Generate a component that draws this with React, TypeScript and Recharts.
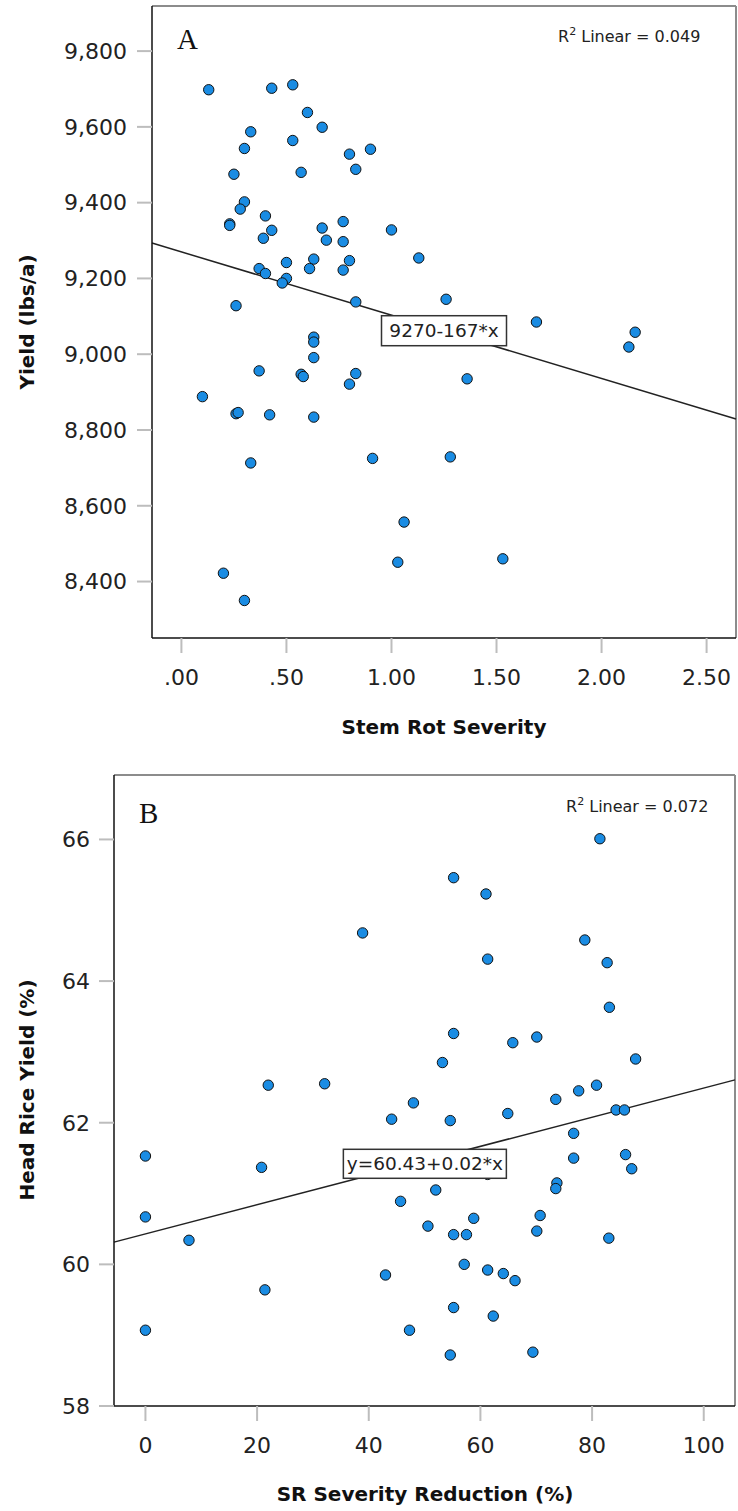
import React from "react";
import {
  ScatterChart,
  Scatter,
  XAxis,
  YAxis,
  ReferenceLine,
  ReferenceDot,
  Label,
} from "recharts";

/* ── data ── */

// panel A: stem rot severity vs yield (lbs/a)
const stemRot = [
  0.13, 0.43, 0.53, 0.6, 0.67, 0.33, 0.3, 0.53, 0.8, 0.83, 0.9, 0.25, 0.57,
  0.3, 0.28, 0.23, 0.23, 0.4, 0.43, 0.39, 0.67, 0.69, 0.77, 0.77, 0.8, 0.77,
  0.37, 0.4, 0.5, 0.5, 0.48, 0.63, 0.61, 0.83, 0.26, 0.63, 0.63, 0.63, 0.37,
  0.57, 0.58, 0.83, 1.0, 1.13, 1.26, 1.69, 2.16, 2.13, 1.36, 0.8, 0.1, 0.26,
  0.27, 0.42, 0.63, 0.33, 0.91, 0.2, 0.3, 1.28, 1.06, 1.03, 1.53,
];
const yieldLbs = [
  9698, 9702, 9711, 9638, 9599, 9587, 9543, 9564, 9528, 9488, 9541, 9475, 9480,
  9402, 9383, 9344, 9340, 9365, 9327, 9306, 9333, 9301, 9350, 9297, 9247, 9222,
  9226, 9213, 9242, 9200, 9188, 9251, 9226, 9138, 9128, 9045, 9032, 8991, 8956,
  8947, 8941, 8949, 9328, 9254, 9145, 9085, 9058, 9019, 8935, 8921, 8888, 8843,
  8846, 8840, 8834, 8713, 8725, 8422, 8350, 8729, 8557, 8451, 8460,
];
const ticksAx = [0, 0.5, 1, 1.5, 2, 2.5];
const ticksAy = [8400, 8600, 8800, 9000, 9200, 9400, 9600, 9800];
const domainAx: [number, number] = [-0.14, 2.64];
const domainAy: [number, number] = [8251, 9919];
const interceptA = 9270;
const slopeA = -167;

// panel B: SR severity reduction vs head rice yield
const srReduction = [
  38.9, 22.0, 32.1, 81.4, 55.2, 61.0, 78.7, 61.3, 82.7, 83.1, 55.2, 65.8, 70.1,
  53.2, 87.8, 80.8, 77.6, 73.5, 48.0, 44.1, 54.6, 64.9, 84.3, 85.8, 76.7, 76.7,
  86.0, 87.1, 73.7, 73.5, 52.0, 45.7, 70.7, 70.1, 58.8, 50.6, 55.2, 57.5, 83.0,
  57.1, 61.3, 64.1, 66.2, 43.0, 55.2, 62.3, 47.3, 54.6, 69.4, 61.3, 0, 0, 0,
  7.8, 20.8, 21.4,
];
const headRice = [
  64.68, 62.53, 62.55, 66.01, 65.46, 65.23, 64.58, 64.31, 64.26, 63.63, 63.26,
  63.13, 63.21, 62.85, 62.9, 62.53, 62.45, 62.33, 62.28, 62.05, 62.03, 62.13,
  62.18, 62.18, 61.85, 61.5, 61.55, 61.35, 61.15, 61.07, 61.05, 60.89, 60.69,
  60.47, 60.65, 60.54, 60.42, 60.42, 60.37, 60.0, 59.92, 59.87, 59.77, 59.85,
  59.39, 59.27, 59.07, 58.72, 58.76, 61.27, 61.53, 60.67, 59.07, 60.34, 61.37,
  59.64,
];
const ticksBx = [0, 20, 40, 60, 80, 100];
const ticksBy = [58, 60, 62, 64, 66];
const domainBx: [number, number] = [-5.63, 105.6];
const domainBy: [number, number] = [58, 66.91];
const interceptB = 60.43;
const slopeB = 0.0206;

const pointsA = stemRot.map((x, i) => ({ x, y: yieldLbs[i] }));
const pointsB = srReduction.map((x, i) => ({ x, y: headRice[i] }));

const FONT = "'DejaVu Sans', sans-serif";
const SERIF = "'Liberation Serif', 'Times New Roman', serif";

const Marker = (p: any) => (
  <circle cx={p.cx} cy={p.cy} r={5.2} fill="#1a8ce3" stroke="#111" strokeWidth={1} />
);

const eqBox = (text: string, w: number, h: number) => (p: any) => (
  <g>
    <rect
      x={p.cx - w / 2}
      y={p.cy - h / 2}
      width={w}
      height={h}
      fill="#fff"
      stroke="#333"
      strokeWidth={1.5}
    />
    <text
      x={p.cx}
      y={p.cy}
      textAnchor="middle"
      dominantBaseline="central"
      fontFamily={FONT}
      fontSize={18.5}
      fill="#222"
    >
      {text}
    </text>
  </g>
);

const title = (text: string, x: number, y: number, rotate = false) => () => (
  <text
    x={x}
    y={y}
    textAnchor="middle"
    dominantBaseline={rotate ? "central" : "auto"}
    transform={rotate ? `rotate(-90 ${x} ${y})` : undefined}
    fontFamily={FONT}
    fontWeight="bold"
    fontSize={20}
    fill="#111"
  >
    {text}
  </text>
);

const tickStyle = { fontSize: 22, fill: "#222", fontFamily: FONT };
const tickLine = { stroke: "#bdbdbd", strokeWidth: 2 };
const axisLine = { stroke: "#111", strokeWidth: 1.5 };

const fmtSeverity = (v: number) => {
  const s = v.toFixed(2);
  return s.startsWith("0.") ? s.slice(1) : s;
};

export default function App() {
  return (
    <div
      style={{
        position: "absolute",
        left: 0,
        top: 0,
        width: 738,
        height: 1511,
        background: "#fff",
        fontFamily: FONT,
      }}
    >
      {/* ── Panel A ── */}
      <div style={{ position: "absolute", left: 0, top: 0 }}>
        <ScatterChart
          width={738}
          height={750}
          margin={{ top: 6, right: 2, left: 0, bottom: 0 }}
        >
          <XAxis
            type="number"
            dataKey="x"
            domain={domainAx}
            ticks={ticksAx}
            allowDataOverflow
            height={112}
            tickSize={15}
            tickMargin={16}
            tick={tickStyle}
            tickLine={tickLine}
            axisLine={axisLine}
            tickFormatter={fmtSeverity}
          >
            <Label content={title("Stem Rot Severity", 444, 734)} />
          </XAxis>
          <YAxis
            type="number"
            dataKey="y"
            domain={domainAy}
            ticks={ticksAy}
            allowDataOverflow
            width={152}
            tickSize={15}
            tickMargin={10}
            tick={tickStyle}
            tickLine={tickLine}
            axisLine={axisLine}
            tickFormatter={(v: number) => v.toLocaleString("en-US")}
          >
            <Label content={title("Yield (lbs/a)", 27, 322, true)} />
          </YAxis>
          <ReferenceLine y={domainAy[1]} stroke="#8c8c8c" strokeWidth={2} ifOverflow="visible" />
          <ReferenceLine x={domainAx[1]} stroke="#8c8c8c" strokeWidth={2} ifOverflow="visible" />
          <ReferenceLine
            segment={[
              { x: domainAx[0], y: interceptA + slopeA * domainAx[0] },
              { x: domainAx[1], y: interceptA + slopeA * domainAx[1] },
            ]}
            stroke="#222"
            strokeWidth={1.5}
          />
          <Scatter data={pointsA} shape={Marker} isAnimationActive={false} />
          <ReferenceDot x={1.25} y={9062} shape={eqBox("9270-167*x", 125, 30)} />
        </ScatterChart>
      </div>

      {/* ── Panel B ── */}
      <div style={{ position: "absolute", left: 0, top: 750 }}>
        <ScatterChart
          width={738}
          height={761}
          margin={{ top: 25, right: 3, left: 0, bottom: 0 }}
        >
          <XAxis
            type="number"
            dataKey="x"
            domain={domainBx}
            ticks={ticksBx}
            allowDataOverflow
            height={105}
            tickSize={15}
            tickMargin={16}
            tick={tickStyle}
            tickLine={tickLine}
            axisLine={axisLine}
          >
            <Label content={title("SR Severity Reduction (%)", 425, 751)} />
          </XAxis>
          <YAxis
            type="number"
            dataKey="y"
            domain={domainBy}
            ticks={ticksBy}
            allowDataOverflow
            width={114}
            tickSize={15}
            tickMargin={9}
            tick={tickStyle}
            tickLine={tickLine}
            axisLine={axisLine}
          >
            <Label content={title("Head Rice Yield (%)", 27, 340, true)} />
          </YAxis>
          <ReferenceLine y={domainBy[1]} stroke="#8c8c8c" strokeWidth={2} ifOverflow="visible" />
          <ReferenceLine x={domainBx[1]} stroke="#8c8c8c" strokeWidth={2} ifOverflow="visible" />
          <ReferenceLine
            segment={[
              { x: domainBx[0], y: interceptB + slopeB * domainBx[0] },
              { x: domainBx[1], y: interceptB + slopeB * domainBx[1] },
            ]}
            stroke="#222"
            strokeWidth={1.5}
          />
          <Scatter data={pointsB} shape={Marker} isAnimationActive={false} />
          <ReferenceDot x={50.05} y={61.42} shape={eqBox("y=60.43+0.02*x", 163, 29)} />
        </ScatterChart>
      </div>

      {/* panel letters and fit notes */}
      <svg
        width={738}
        height={1511}
        style={{ position: "absolute", left: 0, top: 0, pointerEvents: "none" }}
      >
        <text x={177} y={49} fontFamily={SERIF} fontSize={29} fill="#111">
          A
        </text>
        <text x={139} y={823} fontFamily={SERIF} fontSize={29} fill="#111">
          B
        </text>
        <text x={558} y={41.5} fontFamily={FONT} fontSize={16} fill="#222">
          R<tspan dy={-7} fontSize={11}>2</tspan>
          <tspan dy={7}> Linear = 0.049</tspan>
        </text>
        <text x={566} y={811.5} fontFamily={FONT} fontSize={16} fill="#222">
          R<tspan dy={-7} fontSize={11}>2</tspan>
          <tspan dy={7}> Linear = 0.072</tspan>
        </text>
      </svg>
    </div>
  );
}
